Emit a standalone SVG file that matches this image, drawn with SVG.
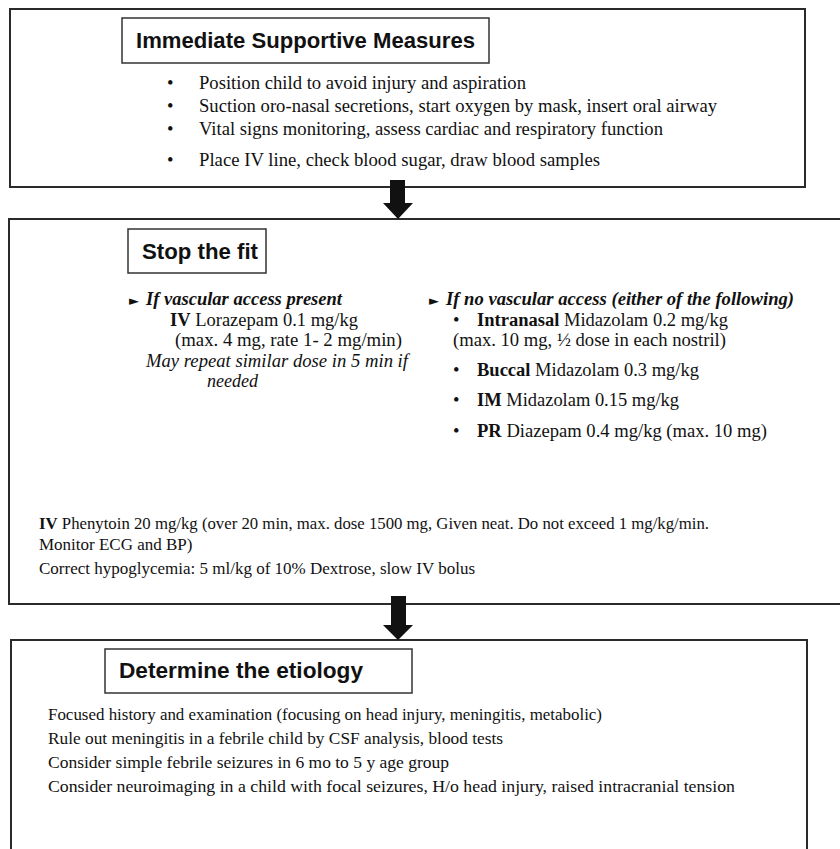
<svg xmlns="http://www.w3.org/2000/svg" width="840" height="849" viewBox="0 0 840 849">
<style>
.box{fill:#fff;stroke:#2a2a2a;stroke-width:2}
.tbox{fill:#fff;stroke:#333;stroke-width:1.5}
.title{font-family:"Liberation Sans",Arial,sans-serif;font-weight:bold;font-size:22px;fill:#111}
.t{font-family:"Liberation Serif","Times New Roman",serif;font-size:18.5px;fill:#111}
.s{font-family:"Liberation Serif","Times New Roman",serif;font-size:17px;fill:#111}
.b{font-weight:bold}
.i{font-style:italic}
.tri{font-family:"DejaVu Sans",sans-serif;font-size:13px;fill:#111}
.arrow{fill:#111}
</style>
<rect width="840" height="849" fill="#fff"/>

<g id="node-supportive">
<rect class="box" x="10" y="9" width="795" height="178"/>
<rect class="tbox" x="122" y="18" width="367" height="45"/>
<text class="title" x="136" y="48" textLength="339" lengthAdjust="spacingAndGlyphs">Immediate Supportive Measures</text>
<text class="t" x="167" y="89">•</text>
<text class="t" x="199" y="89" textLength="327" lengthAdjust="spacingAndGlyphs">Position child to avoid injury and aspiration</text>
<text class="t" x="167" y="112">•</text>
<text class="t" x="199" y="112" textLength="518" lengthAdjust="spacingAndGlyphs">Suction oro-nasal secretions, start oxygen by mask, insert oral airway</text>
<text class="t" x="167" y="135">•</text>
<text class="t" x="199" y="135" textLength="464" lengthAdjust="spacingAndGlyphs">Vital signs monitoring, assess cardiac and respiratory function</text>
<text class="t" x="167" y="166">•</text>
<text class="t" x="199" y="166" textLength="401" lengthAdjust="spacingAndGlyphs">Place IV line, check blood sugar, draw blood samples</text>
</g>

<g id="node-stopfit">
<rect class="box" x="9" y="219" width="845" height="385"/>
<rect class="tbox" x="128" y="229" width="138" height="44"/>
<text class="title" x="142" y="259" textLength="116" lengthAdjust="spacingAndGlyphs">Stop the fit</text>

<text class="tri" x="129" y="305">►</text>
<text class="t b i" x="146" y="305" textLength="196" lengthAdjust="spacingAndGlyphs">If vascular access present</text>
<text class="t" x="170" y="326" textLength="188" lengthAdjust="spacingAndGlyphs"><tspan class="b">IV</tspan> Lorazepam 0.1 mg/kg</text>
<text class="t" x="175" y="346" textLength="227" lengthAdjust="spacingAndGlyphs">(max. 4 mg, rate 1- 2 mg/min)</text>
<text class="t i" x="146" y="367" textLength="262" lengthAdjust="spacingAndGlyphs">May repeat similar dose in 5 min if</text>
<text class="t i" x="207" y="387" textLength="51" lengthAdjust="spacingAndGlyphs">needed</text>

<text class="tri" x="429" y="305">►</text>
<text class="t b i" x="446" y="305" textLength="348" lengthAdjust="spacingAndGlyphs">If no vascular access (either of the following)</text>
<text class="t" x="453" y="326">•</text>
<text class="t" x="477" y="326" textLength="251" lengthAdjust="spacingAndGlyphs"><tspan class="b">Intranasal</tspan> Midazolam 0.2 mg/kg</text>
<text class="t" x="453" y="346" textLength="273" lengthAdjust="spacingAndGlyphs">(max. 10 mg, ½ dose in each nostril)</text>
<text class="t" x="453" y="376">•</text>
<text class="t" x="477" y="376" textLength="222" lengthAdjust="spacingAndGlyphs"><tspan class="b">Buccal</tspan> Midazolam 0.3 mg/kg</text>
<text class="t" x="453" y="406">•</text>
<text class="t" x="477" y="406" textLength="202" lengthAdjust="spacingAndGlyphs"><tspan class="b">IM</tspan> Midazolam 0.15 mg/kg</text>
<text class="t" x="453" y="437">•</text>
<text class="t" x="477" y="437" textLength="290" lengthAdjust="spacingAndGlyphs"><tspan class="b">PR</tspan> Diazepam 0.4 mg/kg (max. 10 mg)</text>

<text class="s" x="39" y="529" textLength="670" lengthAdjust="spacingAndGlyphs"><tspan class="b">IV</tspan> Phenytoin 20 mg/kg (over 20 min, max. dose 1500 mg, Given neat. Do not exceed 1 mg/kg/min.</text>
<text class="s" x="39" y="550">Monitor ECG and BP)</text>
<text class="s" x="39" y="574" textLength="436" lengthAdjust="spacingAndGlyphs">Correct hypoglycemia: 5 ml/kg of 10% Dextrose, slow IV bolus</text>
</g>

<g id="node-etiology">
<rect class="box" x="11" y="640" width="796" height="220"/>
<rect class="tbox" x="105" y="649" width="307" height="44"/>
<text class="title" x="119" y="678" textLength="244" lengthAdjust="spacingAndGlyphs">Determine the etiology</text>
<text class="s" x="48" y="720" textLength="554" lengthAdjust="spacingAndGlyphs">Focused history and examination (focusing on head injury, meningitis, metabolic)</text>
<text class="s" x="48" y="744" textLength="455" lengthAdjust="spacingAndGlyphs">Rule out meningitis in a febrile child by CSF analysis, blood tests</text>
<text class="s" x="48" y="768" textLength="401" lengthAdjust="spacingAndGlyphs">Consider simple febrile seizures in 6 mo to 5 y age group</text>
<text class="s" x="48" y="792" textLength="687" lengthAdjust="spacingAndGlyphs">Consider neuroimaging in a child with focal seizures, H/o head injury, raised intracranial tension</text>
</g>

<g id="connectors">
<path class="arrow" d="M390,180 H405 V203 H413 L398,219 L383,203 H390 Z"/>
<path class="arrow" d="M391,596 H406 V625 H413 L398,640 L383,625 H391 Z"/>
</g>
</svg>
